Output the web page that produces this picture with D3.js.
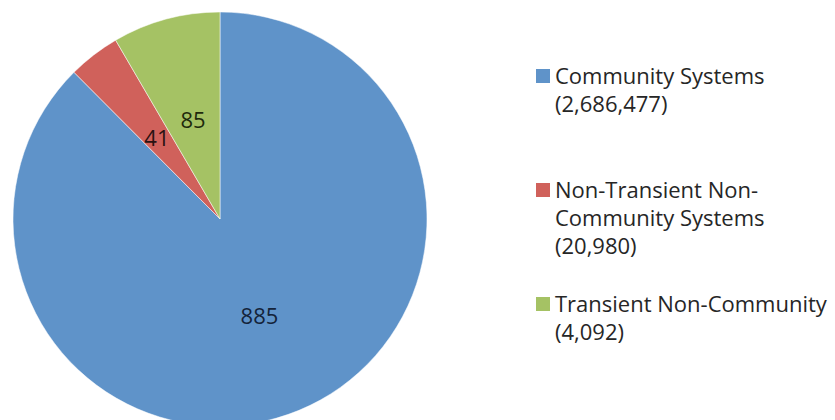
<!DOCTYPE html>
<html><head><meta charset="utf-8">
<script src="https://cdn.jsdelivr.net/npm/d3@7"></script>
<style>html,body{margin:0;padding:0;background:#fff;}</style>
</head><body>
<svg id="chart" width="835" height="420"></svg>
<script>
const categories = ["Community Systems", "Non-Transient Non-Community Systems", "Transient Non-Community"];
const values = [885, 41, 85];
const legendCounts = ["(2,686,477)", "(20,980)", "(4,092)"];
const legendLines = [["Community Systems", "(2,686,477)"], ["Non-Transient Non-", "Community Systems", "(20,980)"], ["Transient Non-Community", "(4,092)"]];
const colors = ["#5f93c9", "#d0615b", "#a5c264"];
const labelColors = ["#14233a", "#2a1212", "#1f2a0c"];

const svg = d3.select("#chart");
const cx = 220, cy = 219, r = 207;
const font = "'Open Sans', sans-serif";

const pie = d3.pie().sort(null).value(d => d)(values);
const arc = d3.arc().innerRadius(0).outerRadius(r);

const g = svg.append("g").attr("transform", `translate(${cx},${cy})`);
g.selectAll("path").data(pie).join("path")
  .attr("d", arc)
  .attr("fill", (d, i) => colors[i])
  .attr("stroke", "#ffffff").attr("stroke-opacity", 0.5).attr("stroke-width", 1);

g.selectAll("text").data(pie).join("text")
  .attr("transform", d => { const c = arc.centroid(d); return `translate(${c[0]},${c[1]})`; })
  .attr("text-anchor", "middle").attr("dominant-baseline", "central")
  .attr("font-family", font).attr("font-size", 22)
  .attr("fill", (d, i) => labelColors[i])
  .text(d => d.data);

const legendTop = [84, 198, 312];
const lineH = 28;
const lg = svg.append("g");
legendLines.forEach((lines, i) => {
  lg.append("rect").attr("x", 536).attr("y", legendTop[i] - 15).attr("width", 14).attr("height", 14).attr("fill", colors[i]);
  const t = lg.append("text").attr("font-family", font).attr("font-size", 22).attr("fill", "#262626");
  lines.forEach((ln, j) => {
    t.append("tspan").attr("x", 555).attr("y", legendTop[i] + j * lineH).text(ln);
  });
});
</script>
</body></html>
